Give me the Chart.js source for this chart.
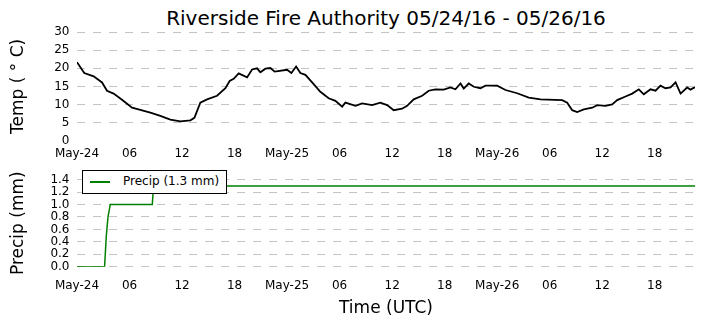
<!DOCTYPE html>
<html>
<head>
<meta charset="utf-8">
<script src="https://cdn.jsdelivr.net/npm/chart.js@4.4.0/dist/chart.umd.min.js"></script>
<style>
  html, body { margin: 0; padding: 0; background: #fff; }
  body { width: 705px; height: 328px; position: relative; overflow: hidden; font-family: "DejaVu Sans", sans-serif; }
  #title { position: absolute; left: 77px; width: 618px; top: 8px; text-align: center; font-size: 20px; line-height: 20px; color: #000; white-space: nowrap; }
  #c1 { position: absolute; left: 0; top: 0; }
  #c2 { position: absolute; left: 0; top: 165px; }
  #legend { position: absolute; left: 82px; top: 170px; width: 143px; height: 22px; border: 1px solid #000; background: #fff; z-index: 5; }
  #legend .ln { position: absolute; left: 7px; top: 10px; width: 20px; height: 2px; background: #008000; }
  #legend .tx { position: absolute; left: 40px; top: 3px; font-size: 12px; line-height: 15px; color: #000; white-space: nowrap; }
</style>
</head>
<body>
<div id="title">Riverside Fire Authority 05/24/16 - 05/26/16</div>
<canvas id="c1" width="705" height="165"></canvas>
<canvas id="c2" width="705" height="163"></canvas>
<div id="legend"><div class="ln"></div><div class="tx" id="legtext"></div></div>
<script>
// ---- data (hours since 2016-05-24 00:00 UTC) ----
const TEMP_HOURS = [0,0.83,1.9,2.86,3.43,4.18,5.14,6.29,7.23,8.38,
  9.52,10.66,11.81,12.95,13.41,14.09,14.86,16.0,16.95,17.44,
  17.9,18.47,19.43,20.0,20.57,20.95,21.52,22.09,22.58,24.0,
  24.49,25.03,25.52,26.09,26.86,27.8,28.75,29.52,30.29,30.66,
  31.81,32.57,33.71,34.66,35.43,36.18,37.14,37.71,38.47,39.43,
  40.18,40.95,41.9,42.66,43.23,43.81,44.18,44.75,45.33,46.09,
  46.66,48.0,48.95,50.29,51.61,52.95,55.43,56.0,56.57,57.14,
  57.9,58.86,59.43,60.38,61.14,61.71,62.66,63.43,64.18,64.75,
  65.52,66.09,66.66,67.23,67.81,68.38,68.95,69.71,70.09,70.6];
const TEMP_VALUES = [21.7,18.7,17.8,16.1,13.8,13.0,11.3,9.1,8.5,7.7,
  6.8,5.8,5.3,5.6,6.3,10.5,11.4,12.4,14.5,16.5,
  17.1,18.6,17.5,19.7,20.0,18.9,19.9,20.1,19.1,19.6,
  18.7,20.5,18.7,18.2,16.1,13.5,11.7,11.0,9.4,10.5,
  9.6,10.3,9.8,10.5,9.8,8.4,8.8,9.6,11.4,12.4,
  13.8,14.2,14.1,14.7,14.2,15.8,14.4,15.8,14.9,14.5,
  15.2,15.2,14.0,13.1,11.9,11.4,11.2,10.5,8.4,7.9,
  8.6,9.1,9.8,9.6,10.0,11.2,12.2,13.0,14.2,12.8,
  14.2,13.8,15.2,14.5,14.7,16.1,13.0,14.7,14.1,14.8];
const PRECIP_HOURS = [0, 3.15, 3.35, 3.54, 3.8, 8.6, 8.75, 70.6];
const PRECIP_VALUES = [0, 0, 0.5, 0.8, 1.0, 1.0, 1.3, 1.3];
const X_TICKS = [0, 6, 12, 18, 24, 30, 36, 42, 48, 54, 60, 66];
const X_TICK_LABELS = ['May-24','06','12','18','May-25','06','12','18','May-26','06','12','18'];
const TEMP_TICKS = [0, 5, 10, 15, 20, 25, 30];
const PRECIP_TICKS = [0, 0.2, 0.4, 0.6, 0.8, 1.0, 1.2, 1.4];
const X_MAX = 70.6;

const FONT = "DejaVu Sans";
const GRID = '#c4c4c4';
const DASH = [8, 8];

document.getElementById('legtext').textContent =
  'Precip (' + Math.max(...PRECIP_VALUES).toFixed(1) + ' mm)';

function xScale(tickPad, height, title) {
  return {
    type: 'linear', min: 0, max: X_MAX,
    afterBuildTicks: s => { s.ticks = X_TICKS.map(v => ({ value: v })); },
    afterFit: s => { s.height = height; },
    grid: { display: false, drawTicks: false },
    border: { display: false },
    ticks: {
      padding: tickPad, color: '#000', maxRotation: 0, autoSkip: false,
      font: { family: FONT, size: 12 },
      callback: v => { const i = X_TICKS.indexOf(v); return i >= 0 ? X_TICK_LABELS[i] : null; }
    },
    title: title ? { display: true, text: title, color: '#000', font: { family: FONT, size: 17 }, padding: { top: 0, bottom: 9.3 } } : { display: false }
  };
}
function yScale(min, max, ticksArr, fmt, title, hideZero) {
  return {
    type: 'linear', min: min, max: max,
    afterBuildTicks: s => { s.ticks = ticksArr.map(v => ({ value: v })); },
    afterFit: s => { s.width = 77; },
    grid: {
      drawTicks: false, lineWidth: 1,
      borderDash: DASH, tickBorderDash: DASH,
      color: c => (hideZero && c.tick && c.tick.value === 0) ? 'rgba(0,0,0,0)' : GRID
    },
    border: { display: false, dash: DASH, dashOffset: 0 },
    ticks: { padding: 7.5, color: '#000', autoSkip: false, font: { family: FONT, size: 12 }, callback: fmt },
    title: { display: true, text: title, color: '#000', font: { family: FONT, size: 17 }, padding: { top: 8.4, bottom: 0 } }
  };
}

const common = {
  responsive: false, animation: false, devicePixelRatio: 1,
  plugins: { legend: { display: false }, tooltip: { enabled: false } },
  elements: { point: { radius: 0 }, line: { tension: 0 } }
};

new Chart(document.getElementById('c1'), {
  type: 'line',
  data: { datasets: [{
    label: 'Temp',
    data: TEMP_HOURS.map((h, i) => ({ x: h, y: TEMP_VALUES[i] })),
    borderColor: '#000', borderWidth: 1.8, pointRadius: 0, fill: false
  }] },
  options: Object.assign({}, common, {
    layout: { padding: { top: 32.3, right: 10, left: 0, bottom: 0 } },
    scales: {
      x: xScale(6.2, 24.5, null),
      y: yScale(0, 30, TEMP_TICKS, v => String(v), 'Temp ( \u00B0 C)', true)
    }
  })
});

new Chart(document.getElementById('c2'), {
  type: 'line',
  data: { datasets: [{
    label: 'Precip',
    data: PRECIP_HOURS.map((h, i) => ({ x: h, y: PRECIP_VALUES[i] })),
    borderColor: '#008000', borderWidth: 1.5, pointRadius: 0, fill: false
  }] },
  options: Object.assign({}, common, {
    layout: { padding: { top: 10.7, right: 10, left: 0, bottom: 0 } },
    scales: {
      x: xScale(12, 61.3, 'Time (UTC)'),
      y: yScale(0, 1.4, PRECIP_TICKS, v => Number(v).toFixed(1), 'Precip (mm)', false)
    }
  })
});
</script>
</body>
</html>
